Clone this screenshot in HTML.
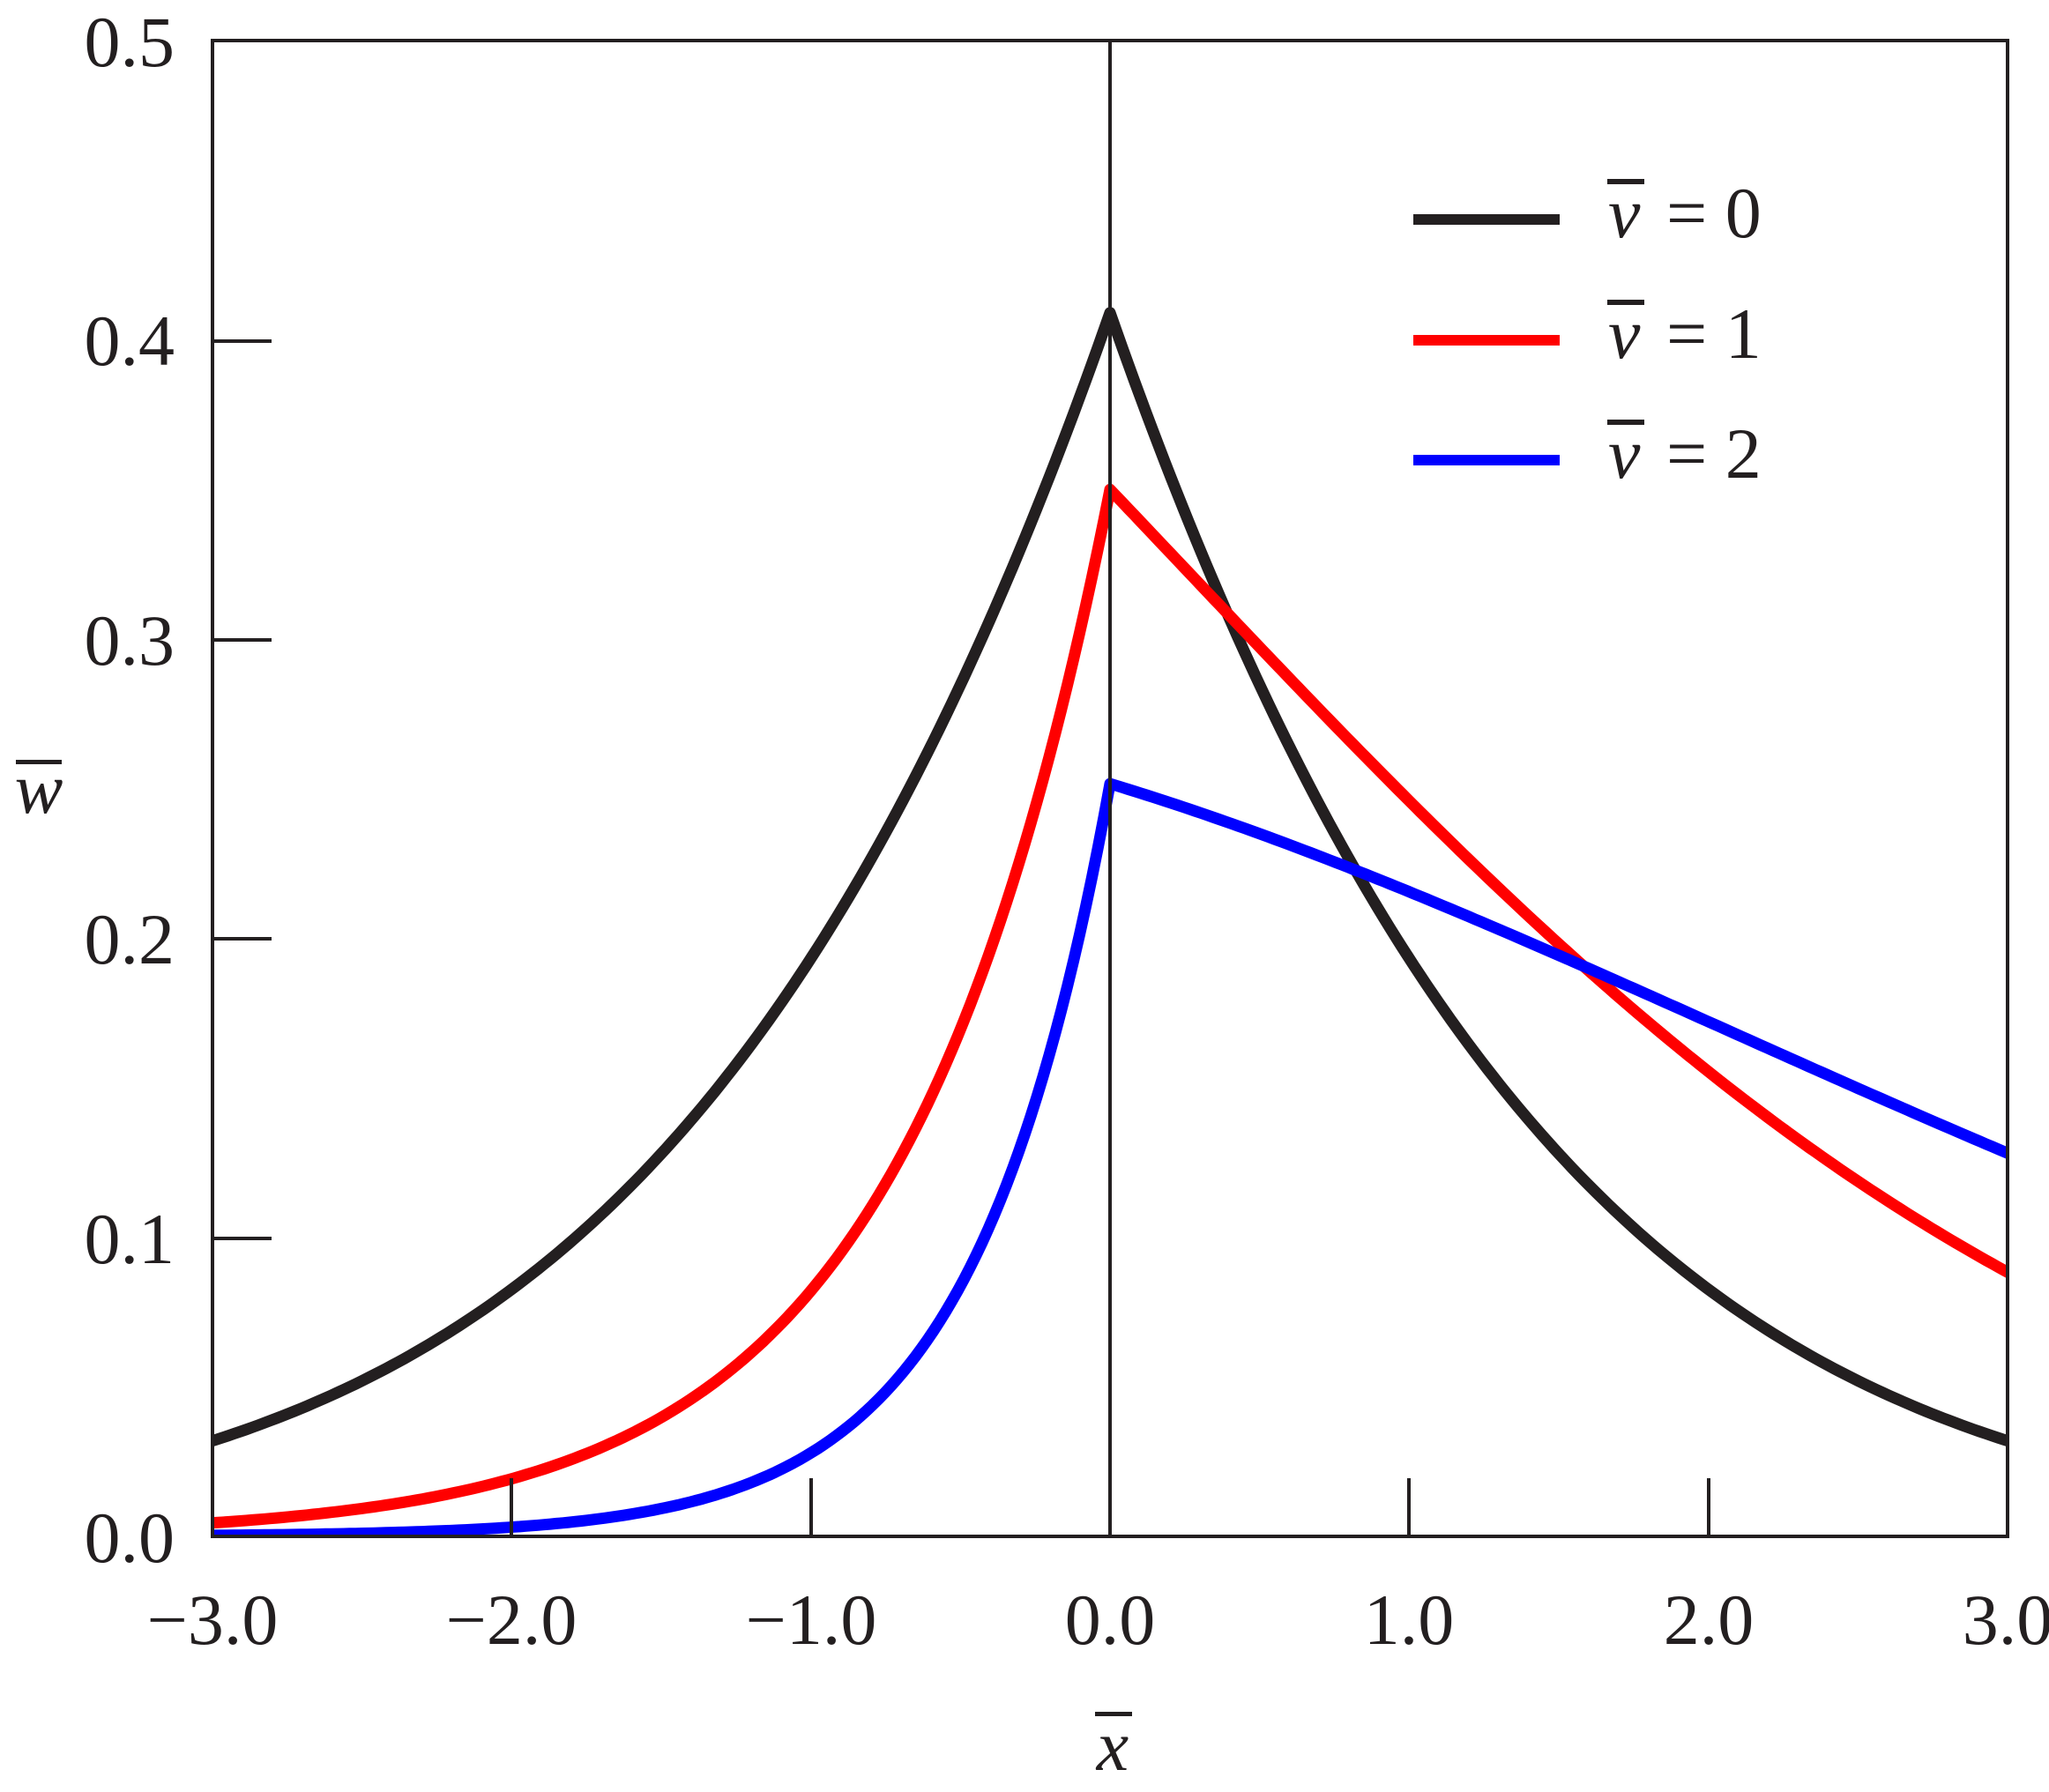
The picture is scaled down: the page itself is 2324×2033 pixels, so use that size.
<!DOCTYPE html>
<html><head><meta charset="utf-8"><style>
html,body{margin:0;padding:0;background:#fff;}
svg{display:block;}
text{font-family:"Liberation Serif",serif;fill:#231f20;}
</style></head><body>
<svg id="s" width="2324" height="2033" viewBox="0 0 2324 2033" xmlns="http://www.w3.org/2000/svg">
<defs><clipPath id="c"><rect x="241" y="46" width="2036" height="1697"/></clipPath></defs>
<g id="curves" clip-path="url(#c)"></g>
<g stroke="#231f20" stroke-width="4" fill="none">
<rect x="241" y="46" width="2036" height="1697"/>
<line x1="1259" y1="46" x2="1259" y2="1743"/>
<line x1="241" y1="1405" x2="308" y2="1405"/>
<line x1="241" y1="1065" x2="308" y2="1065"/>
<line x1="241" y1="726" x2="308" y2="726"/>
<line x1="241" y1="387" x2="308" y2="387"/>
<line x1="580" y1="1743" x2="580" y2="1677"/>
<line x1="920" y1="1743" x2="920" y2="1677"/>
<line x1="1598" y1="1743" x2="1598" y2="1677"/>
<line x1="1938" y1="1743" x2="1938" y2="1677"/>
</g>
<g font-size="82" text-anchor="end">
<text x="198" y="1772">0.0</text>
<text x="198" y="1433">0.1</text>
<text x="198" y="1093">0.2</text>
<text x="198" y="754">0.3</text>
<text x="198" y="414">0.4</text>
<text x="198" y="75">0.5</text>
</g>
<g font-size="82" text-anchor="middle">
<text x="241" y="1865">−3.0</text>
<text x="580" y="1865">−2.0</text>
<text x="920" y="1865">−1.0</text>
<text x="1259" y="1865">0.0</text>
<text x="1598" y="1865">1.0</text>
<text x="1938" y="1865">2.0</text>
<text x="2277" y="1865">3.0</text>
</g>
<text x="1262" y="2008" font-size="82" font-style="italic" text-anchor="middle">x</text>
<rect x="1242" y="1942" width="42" height="5" fill="#231f20"/>
<text x="44" y="922" font-size="82" font-style="italic" text-anchor="middle">w</text>
<rect x="18" y="862" width="52" height="5" fill="#231f20"/>
<g>
<line x1="1603" y1="249" x2="1769" y2="249" stroke="#231f20" stroke-width="12"/>
<line x1="1603" y1="386" x2="1769" y2="386" stroke="#ff0000" stroke-width="12"/>
<line x1="1603" y1="522" x2="1769" y2="522" stroke="#0000ff" stroke-width="12"/>
<g font-size="82">
<text x="1824" y="269" font-style="italic">v</text><text x="1890" y="269">= 0</text>
<text x="1824" y="406" font-style="italic">v</text><text x="1890" y="406">= 1</text>
<text x="1824" y="542" font-style="italic">v</text><text x="1890" y="542">= 2</text>
</g>
<rect x="1823" y="203" width="42" height="6" fill="#231f20"/>
<rect x="1823" y="340" width="42" height="6" fill="#231f20"/>
<rect x="1823" y="476" width="42" height="6" fill="#231f20"/>
</g>
</svg>
<script>
var X=function(x){return 1259+x*339.33;},Y=function(v){return 1743-v*3394;};
var fs=[
 ["#231f20",function(x){var t=Math.abs(x);return Math.exp(-0.894-0.7*t-0.05*t*t);}],
 ["#ff0000",function(x){return x<0?Math.exp(-1.05+1.45*x):Math.exp(-1.05-0.3*x-0.053*x*x);}],
 ["#0000ff",function(x){return x<0?Math.exp(-1.38+2.2*x):Math.exp(-1.38-0.12*x-0.035*x*x);}]
];
var g=document.getElementById("curves"),ns="http://www.w3.org/2000/svg";
fs.forEach(function(s){
 var d="";
 for(var i=0;i<=300;i++){var x=-3.05+6.1*i/300;if(i==150)x=0;
  d+=(i?"L":"M")+X(x).toFixed(1)+" "+Y(s[1](x)).toFixed(1);}
 var e=document.createElementNS(ns,"path");
 e.setAttribute("d",d);e.setAttribute("fill","none");
 e.setAttribute("stroke",s[0]);e.setAttribute("stroke-width","13");
 e.setAttribute("stroke-linejoin","round");
 g.appendChild(e);
});
</script>
</body></html>
